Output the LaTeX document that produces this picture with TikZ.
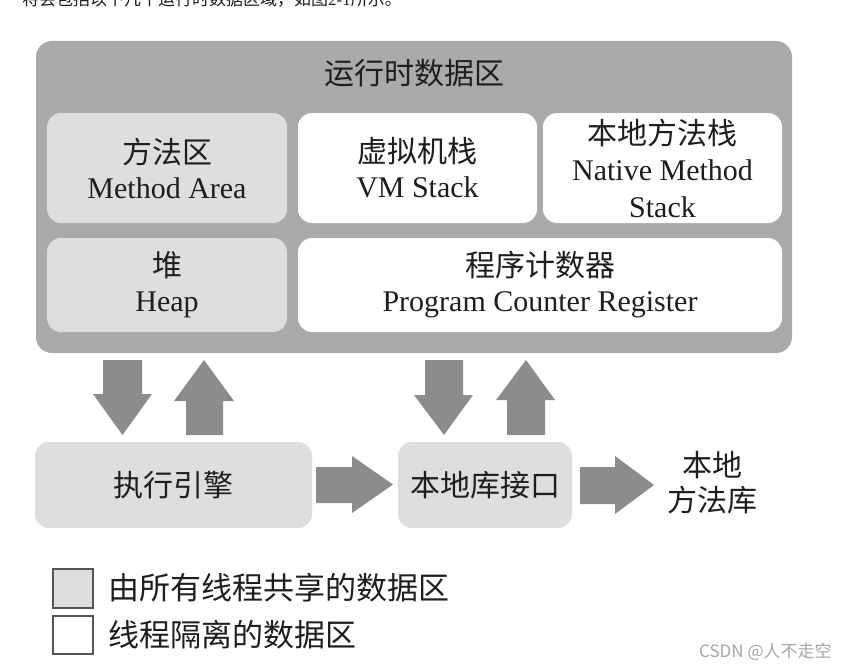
\documentclass[tikz,border=0pt]{standalone}
\usepackage{fontspec}
\setmainfont{Liberation Serif}
\newfontfamily\cjk{Noto Sans CJK SC}
\definecolor{outergray}{HTML}{A8AAAC}
\definecolor{lightgray}{HTML}{DCDEDF}
\definecolor{arrowgray}{HTML}{8B8C8D}
\definecolor{txt}{HTML}{1E1E1E}
\definecolor{legendline}{HTML}{555555}
\definecolor{wm}{HTML}{A6A6A6}
\tikzset{
  box/.style={rounded corners=14pt, inner sep=0pt, align=center, text=txt,
    font=\fontsize{30}{35}\selectfont},
  sharedbox/.style={box, fill=lightgray},
  privbox/.style={box, fill=white},
  outerbox/.style={rounded corners=16pt, fill=outergray, inner sep=0pt},
  blockarrow/.style={fill=arrowgray, draw=none},
  legendbox/.style={draw=legendline, line width=1.6pt, inner sep=0pt},
  legendtext/.style={anchor=west, text=txt, inner sep=0pt, font=\fontsize{31}{31}\selectfont\cjk},
}
\begin{document}
\begin{tikzpicture}[x=1pt,y=-1pt]
\useasboundingbox (0,0) rectangle (849,669);
\clip (0,0) rectangle (849,669);
\fill[white] (0,0) rectangle (849,669);

% cut-off caption line at the top
\node[anchor=base west, inner sep=0pt, text=txt, font=\fontsize{17}{17}\selectfont] (cap) at (22,6)
  {\cjk 将会包括以下几个运行时数据区域，如图\rmfamily 2-1\cjk 所示。};

% runtime data area
\node[outerbox, minimum width=756pt, minimum height=312pt] (rt) at (414,197) {};
\node[text=txt, inner sep=0pt, font=\fontsize{30}{30}\selectfont] (title) at (414,73) {\cjk 运行时数据区};

\node[sharedbox, minimum width=240pt, minimum height=110pt] (ma) at (167,168)
  {{\cjk 方法区}\\Method Area};
\node[privbox, minimum width=239pt, minimum height=110pt] (vm) at (417.5,168)
  {{\cjk 虚拟机栈}\\VM Stack};
\node[privbox, minimum width=239pt, minimum height=110pt, font=\fontsize{30}{36.5}\selectfont] (nms) at (662.5,168)
  {{\cjk 本地方法栈}\\Native Method\\Stack};
\node[sharedbox, minimum width=240pt, minimum height=94pt] (heap) at (167,285)
  {{\cjk 堆}\\Heap};
\node[privbox, minimum width=484pt, minimum height=94pt] (pc) at (540,285)
  {{\cjk 程序计数器}\\Program Counter Register};

% lower boxes
\node[sharedbox, minimum width=277pt, minimum height=86pt] (exec) at (173.5,485) {\cjk 执行引擎};
\node[sharedbox, minimum width=174pt, minimum height=86pt] (nif) at (485,485) {\cjk 本地库接口};
\node[text=txt, inner sep=0pt, align=center, font=\fontsize{30}{35}\selectfont\cjk] (nlib) at (712,483) {本地\\方法库};

% block arrows
\fill[blockarrow] (103,360) -- (142,360) -- (142,394) -- (152,394) -- (122.5,435) -- (93,394) -- (103,394) -- cycle;
\fill[blockarrow] (186,435) -- (223,435) -- (223,401) -- (234,401) -- (204,360) -- (174,401) -- (186,401) -- cycle;
\fill[blockarrow] (425,360) -- (463,360) -- (463,395) -- (473,395) -- (444,435) -- (414,395) -- (425,395) -- cycle;
\fill[blockarrow] (507,435) -- (545,435) -- (545,400) -- (555,400) -- (526,360) -- (496,400) -- (507,400) -- cycle;
\fill[blockarrow] (exec.east |- 0,467) ++(4,0) -- (352,467) -- (352,456) -- (393,484.5) -- (352,513) -- (352,503) -- (316,503) -- cycle;
\fill[blockarrow] (580,467) -- (615,467) -- (615,456) -- (654,485) -- (615,514) -- (615,504) -- (580,504) -- cycle;

% legend
\node[legendbox, fill=lightgray, minimum width=40pt, minimum height=39pt] (lg1) at (73,588.5) {};
\node[legendbox, fill=white, minimum width=40pt, minimum height=38pt] (lg2) at (73,635) {};
\node[legendtext] (lt1) at (108,588) {由所有线程共享的数据区};
\node[legendtext] (lt2) at (108,635) {线程隔离的数据区};

% watermark
\node[anchor=west, inner sep=0pt, text=wm, font=\fontsize{17}{17}\selectfont\cjk] (wmk) at (699,652) {CSDN @人不走空};
\end{tikzpicture}
\end{document}
